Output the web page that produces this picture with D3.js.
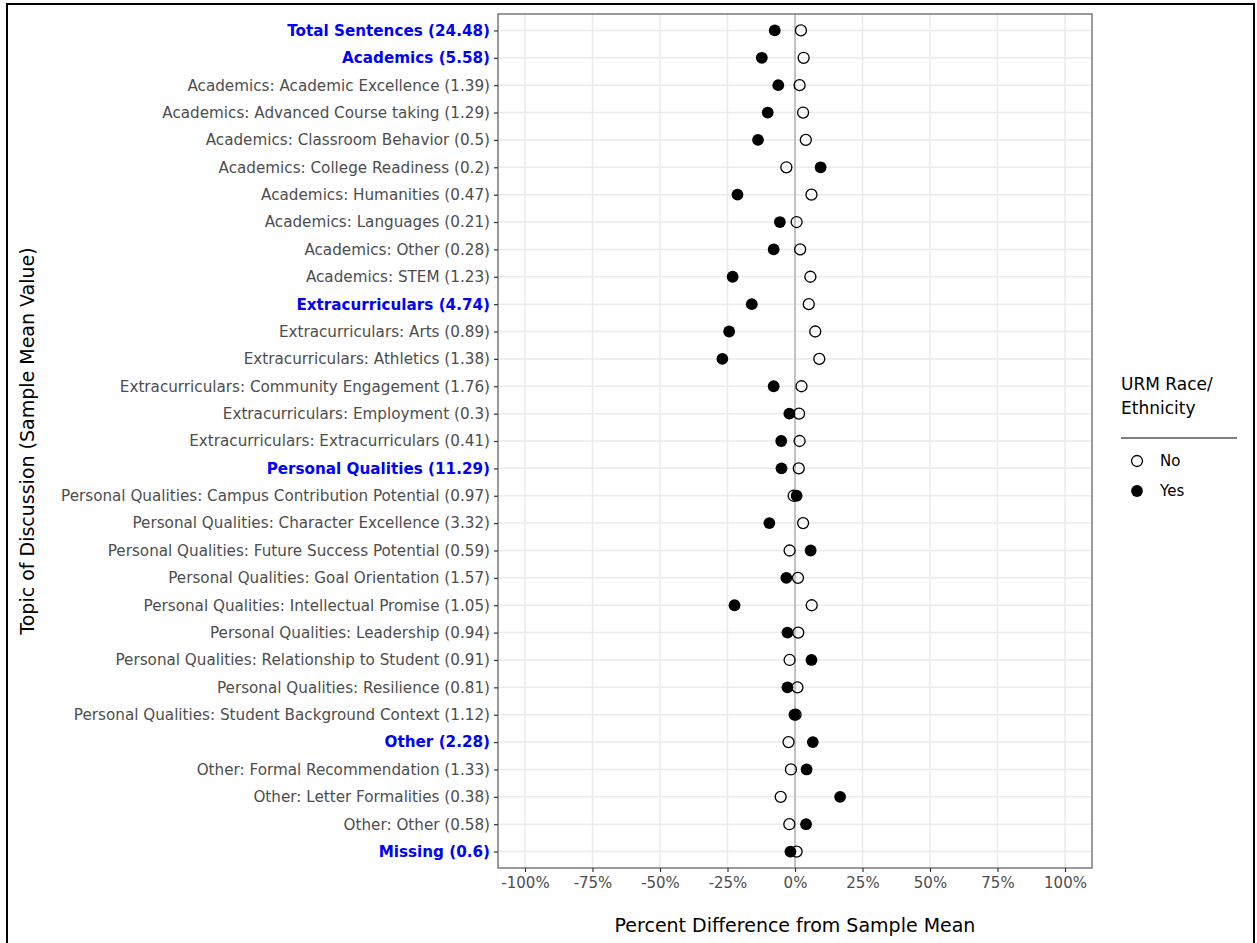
<!DOCTYPE html>
<html>
<head>
<meta charset="utf-8">
<script src="https://cdn.jsdelivr.net/npm/d3@7"></script>
<style>
  html, body { margin: 0; padding: 0; background: #fff; }
  svg { display: block; font-family: "DejaVu Sans", sans-serif; }
</style>
</head>
<body>
<svg id="chart" width="1257" height="943"></svg>
<script>
const topics = [
  "Total Sentences",
  "Academics",
  "Academics: Academic Excellence",
  "Academics: Advanced Course taking",
  "Academics: Classroom Behavior",
  "Academics: College Readiness",
  "Academics: Humanities",
  "Academics: Languages",
  "Academics: Other",
  "Academics: STEM",
  "Extracurriculars",
  "Extracurriculars: Arts",
  "Extracurriculars: Athletics",
  "Extracurriculars: Community Engagement",
  "Extracurriculars: Employment",
  "Extracurriculars: Extracurriculars",
  "Personal Qualities",
  "Personal Qualities: Campus Contribution Potential",
  "Personal Qualities: Character Excellence",
  "Personal Qualities: Future Success Potential",
  "Personal Qualities: Goal Orientation",
  "Personal Qualities: Intellectual Promise",
  "Personal Qualities: Leadership",
  "Personal Qualities: Relationship to Student",
  "Personal Qualities: Resilience",
  "Personal Qualities: Student Background Context",
  "Other",
  "Other: Formal Recommendation",
  "Other: Letter Formalities",
  "Other: Other",
  "Missing"
];
const sampleMeans = [24.48, 5.58, 1.39, 1.29, 0.5, 0.2, 0.47, 0.21, 0.28, 1.23,
  4.74, 0.89, 1.38, 1.76, 0.3, 0.41,
  11.29, 0.97, 3.32, 0.59, 1.57, 1.05, 0.94, 0.91, 0.81, 1.12,
  2.28, 1.33, 0.38, 0.58, 0.6];
// Percent difference from sample mean, URM = No
const noValues = [2.2, 3.2, 1.7, 3.0, 4.0, -3.2, 6.1, 0.6, 1.9, 5.7,
  5.1, 7.5, 9.0, 2.4, 1.5, 1.7,
  1.4, -0.5, 3.0, -2.0, 1.1, 6.2, 1.2, -2.0, 0.9, 0.2,
  -2.4, -1.5, -5.3, -2.1, 0.6];
// Percent difference from sample mean, URM = Yes
const yesValues = [-7.5, -12.3, -6.2, -10.1, -13.7, 9.5, -21.3, -5.6, -7.9, -23.1,
  -16.0, -24.4, -26.9, -7.9, -2.1, -5.1,
  -5.0, 0.6, -9.5, 5.8, -3.2, -22.4, -2.8, 6.1, -2.8, -0.2,
  6.6, 4.3, 16.7, 4.1, -1.7];
const xTicks = [-100, -75, -50, -25, 0, 25, 50, 75, 100];
const legendGroups = ["No", "Yes"];

const svg = d3.select("#chart");

// outer frame
svg.append("rect").attr("x", 7).attr("y", 4).attr("width", 1247).attr("height", 945)
  .attr("fill", "none").attr("stroke", "#000").attr("stroke-width", 2);

const panel = { left: 498, right: 1092, top: 14, bottom: 868 };

const x = d3.scaleLinear().domain([-110, 110]).range([panel.left, panel.right]);
const labels = topics.map((t, i) => `${t} (${sampleMeans[i]})`);
const y = d3.scalePoint().domain(labels).range([panel.top, panel.bottom]).padding(0.6);

const g = svg.append("g");

// grid
g.append("rect").attr("x", panel.left).attr("y", panel.top)
  .attr("width", panel.right - panel.left).attr("height", panel.bottom - panel.top)
  .attr("fill", "#fff");
g.selectAll("line.vgrid").data(xTicks).join("line").attr("class", "vgrid")
  .attr("x1", d => x(d)).attr("x2", d => x(d))
  .attr("y1", panel.top).attr("y2", panel.bottom)
  .attr("stroke", "#ebebeb").attr("stroke-width", 1.5);
g.selectAll("line.hgrid").data(labels).join("line").attr("class", "hgrid")
  .attr("x1", panel.left).attr("x2", panel.right)
  .attr("y1", d => y(d)).attr("y2", d => y(d))
  .attr("stroke", "#ebebeb").attr("stroke-width", 1.5);

// zero reference line
g.append("line").attr("x1", x(0)).attr("x2", x(0))
  .attr("y1", panel.top).attr("y2", panel.bottom)
  .attr("stroke", "#b3b3b3").attr("stroke-width", 1.5);

// points
g.selectAll("circle.yes").data(yesValues).join("circle").attr("class", "yes")
  .attr("cx", d => x(d)).attr("cy", (d, i) => y(labels[i]))
  .attr("r", 5.9).attr("fill", "#000");
g.selectAll("circle.no").data(noValues).join("circle").attr("class", "no")
  .attr("cx", d => x(d)).attr("cy", (d, i) => y(labels[i]))
  .attr("r", 5.5).attr("fill", "none").attr("stroke", "#000").attr("stroke-width", 1.3);

// panel border
g.append("rect").attr("x", panel.left).attr("y", panel.top)
  .attr("width", panel.right - panel.left).attr("height", panel.bottom - panel.top)
  .attr("fill", "none").attr("stroke", "#7a7a7a").attr("stroke-width", 1.5);

// y axis
const yAxis = d3.axisLeft(y).tickSize(4).tickPadding(4);
const yg = svg.append("g").attr("transform", `translate(${panel.left},0)`).call(yAxis);
yg.select(".domain").remove();
yg.selectAll(".tick line").attr("stroke", "#333").attr("stroke-width", 1.2);
yg.selectAll(".tick text")
  .style("font-family", "DejaVu Sans, sans-serif")
  .style("font-size", "15.2px")
  .attr("fill", (d, i) => topics[i].includes(":") ? "#4d4d4d" : "#0000ff")
  .style("font-weight", (d, i) => topics[i].includes(":") ? "normal" : "bold");

// x axis
const xAxis = d3.axisBottom(x).tickValues(xTicks).tickFormat(d => `${d}%`).tickSize(4).tickPadding(5);
const xg = svg.append("g").attr("transform", `translate(0,${panel.bottom})`).call(xAxis);
xg.select(".domain").remove();
xg.selectAll(".tick line").attr("stroke", "#333").attr("stroke-width", 1.2);
xg.selectAll(".tick text")
  .style("font-family", "DejaVu Sans, sans-serif")
  .style("font-size", "15px").attr("fill", "#4d4d4d");

// axis titles
svg.append("text").attr("x", (panel.left + panel.right) / 2).attr("y", 932)
  .attr("text-anchor", "middle").style("font-size", "19px").attr("fill", "#000")
  .text("Percent Difference from Sample Mean");
svg.append("text")
  .attr("transform", `translate(34,${(panel.top + panel.bottom) / 2}) rotate(-90)`)
  .attr("text-anchor", "middle").style("font-size", "19px").attr("fill", "#000")
  .text("Topic of Discussion (Sample Mean Value)");

// legend
const lg = svg.append("g").attr("transform", "translate(1121,0)");
lg.append("text").attr("x", 0).attr("y", 390).style("font-size", "17px").text("URM Race/");
lg.append("text").attr("x", 0).attr("y", 414).style("font-size", "17px").text("Ethnicity");
lg.append("line").attr("x1", 0).attr("x2", 116).attr("y1", 438).attr("y2", 438)
  .attr("stroke", "#000").attr("stroke-width", 1);
legendGroups.forEach((k, i) => {
  const cy = 461 + i * 30;
  if (k === "Yes") {
    lg.append("circle").attr("cx", 16).attr("cy", cy).attr("r", 5.9).attr("fill", "#000");
  } else {
    lg.append("circle").attr("cx", 16).attr("cy", cy).attr("r", 5.5)
      .attr("fill", "none").attr("stroke", "#000").attr("stroke-width", 1.3);
  }
  lg.append("text").attr("x", 39).attr("y", cy + 5).style("font-size", "15px")
    .attr("fill", "#000").text(k);
});
</script>
</body>
</html>
